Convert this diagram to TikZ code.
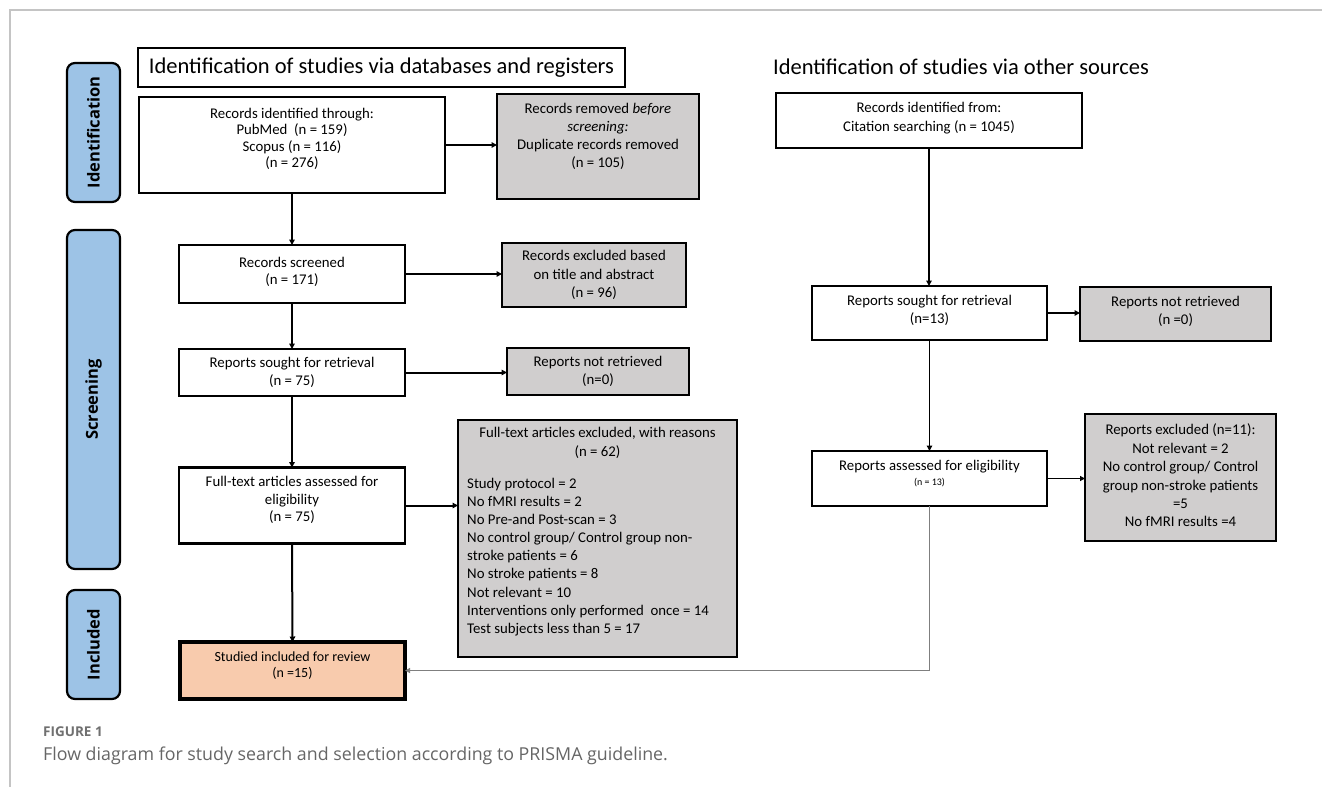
\documentclass[tikz,border=0pt]{standalone}
\usepackage{fontspec}
\setmainfont{Carlito}
\newfontfamily\labfont{Open Sans}
\usetikzlibrary{arrows.meta,calc}
\definecolor{boxgray}{HTML}{D0CECE}
\definecolor{labblue}{HTML}{9DC3E6}
\definecolor{peach}{HTML}{F8CBAD}
\definecolor{capgray}{HTML}{666666}
\definecolor{figgray}{HTML}{707070}
\definecolor{framegray}{HTML}{C4C4C4}
\definecolor{linkgray}{HTML}{7F7F7F}
\begin{document}
\begin{tikzpicture}[x=1pt,y=-1pt,
  box/.style={draw=black, line width=2.6pt, inner sep=0pt, outer sep=0pt},
  wbox/.style={box, fill=white},
  gbox/.style={box, fill=boxgray},
  sidelab/.style={draw=black, line width=2.2pt, fill=labblue, rounded corners=8pt, inner sep=0pt},
  labtxt/.style={rotate=90, font=\labfont\bfseries\fontsize{16.5}{18}\selectfont},
  txt/.style={align=center, font=\fontsize{14.8}{16.5}\selectfont, inner sep=0pt},
  arr/.style={-{Triangle[length=5.5pt,width=5.5pt]}, line width=2pt},
  rarr/.style={-{Triangle[length=5.5pt,width=5.5pt]}, line width=1.6pt},
  tarr/.style={-{Triangle[length=5pt,width=5pt]}, line width=1.2pt},
  garr/.style={-{Triangle[length=5pt,width=5pt]}, line width=1.2pt, draw=linkgray},
]
\useasboundingbox (0,0) rectangle (1322,787);
\fill[white] (0,0) rectangle (1322,787);
% frame
\draw[framegray, line width=1.2pt] (1322,10) -- (10,10) -- (10,787);

% side labels
\node[sidelab, minimum width=53pt, minimum height=139pt] (idlab) at (93.5,132.5) {};
\node[labtxt] (idlabT) at (idlab.center) {Identification};
\node[sidelab, minimum width=53pt, minimum height=339pt] (sclab) at (93.5,399.5) {};
\node[labtxt] (sclabT) at (sclab.center) {Screening};
\node[sidelab, minimum width=53pt, minimum height=109pt] (inlab) at (93.5,644.5) {};
\node[labtxt] (inlabT) at (inlab.center) {Included};

% titles
\node[wbox, minimum width=487pt, minimum height=39pt, font=\fontsize{22.5}{26}\selectfont] (title1) at (381.5,67.5) {Identification of studies via databases and registers};
\node[font=\fontsize{22.5}{26}\selectfont, inner sep=0pt] (title2) at (961,67) {Identification of studies via other sources};

% left column
\node[wbox, minimum width=306pt, minimum height=96pt] (recid) at (292,145) {};
\node[txt, anchor=north] (recidT) at ($(recid.north)+(0,11)$) {Records identified through:\\PubMed~ (n = 159)\\Scopus (n = 116)\\(n = 276)};

\node[gbox, minimum width=202pt, minimum height=105pt] (recrem) at (598,146.5) {};
\node[txt, anchor=north, font=\fontsize{14.8}{18}\selectfont] (recremT) at ($(recrem.north)+(0,9)$) {Records removed \textit{before}\\\textit{screening:}\\Duplicate records removed\\(n = 105)};

\node[wbox, minimum width=226pt, minimum height=58pt] (recscr) at (292,274) {};
\node[txt, font=\fontsize{14.8}{17.5}\selectfont] (recscrT) at ($(recscr.center)+(0,-2)$) {Records screened\\(n = 171)};

\node[gbox, minimum width=184pt, minimum height=64pt] (recexc) at (594,275) {};
\node[txt, font=\fontsize{14.8}{18.5}\selectfont] (recexcT) at (recexc.center) {Records excluded based\\on title and abstract\\(n = 96)};

\node[wbox, minimum width=226pt, minimum height=47pt] (repsought) at (292,372.5) {};
\node[txt, font=\fontsize{14.8}{17.5}\selectfont] (repsoughtT) at (repsought.center) {Reports sought for retrieval\\(n = 75)};

\node[gbox, minimum width=182pt, minimum height=47pt] (repnot) at (598,371.5) {};
\node[txt, font=\fontsize{14.8}{17.5}\selectfont] (repnotT) at (repnot.center) {Reports not retrieved\\(n=0)};

\node[wbox, minimum width=226pt, minimum height=76pt] (fta) at (292,505.5) {};
\node[txt, anchor=north, font=\fontsize{14.8}{17.5}\selectfont] (ftaT) at ($(fta.north)+(0,9)$) {Full-text articles assessed for\\eligibility\\(n = 75)};

\node[gbox, minimum width=279pt, minimum height=237pt] (ftex) at (597.5,538.5) {};
\node[txt, anchor=north, font=\fontsize{14.8}{19}\selectfont] (ftexH) at ($(ftex.north)+(0,7)$) {Full-text articles excluded, with reasons\\(n = 62)};
\node[txt, align=left, anchor=north west, font=\fontsize{14.8}{18.1}\selectfont] (ftexL) at (467,478) {Study protocol = 2\\No fMRI results = 2\\No Pre-and Post-scan = 3\\No control group/ Control group non-\\stroke patients = 6\\No stroke patients = 8\\Not relevant = 10\\Interventions only performed~ once = 14\\Test subjects less than 5 = 17};

\node[box, line width=3.2pt, fill=peach, minimum width=225pt, minimum height=57pt] (studied) at (292.5,670.5) {};
\node[txt, font=\fontsize{14}{16.5}\selectfont] (studiedT) at ($(studied.center)+(0,-5)$) {Studied included for review\\(n =15)};

% right column
\node[wbox, minimum width=306pt, minimum height=55pt] (rrecid) at (929,120.5) {};
\node[txt, font=\fontsize{14.8}{19}\selectfont] (rrecidT) at ($(rrecid.center)+(0,-2)$) {Records identified from:\\Citation searching (n = 1045)};

\node[wbox, minimum width=235pt, minimum height=54pt] (rrs) at (929.5,313) {};
\node[txt, font=\fontsize{14.8}{18}\selectfont] (rrsT) at ($(rrs.center)+(0,-3)$) {Reports sought for retrieval\\(n=13)};

\node[gbox, minimum width=191pt, minimum height=54pt] (rrn) at (1175.5,314) {};
\node[txt, font=\fontsize{14.8}{18}\selectfont] (rrnT) at ($(rrn.center)+(0,-3)$) {Reports not retrieved\\(n =0)};

\node[wbox, minimum width=235pt, minimum height=55pt] (rra) at (929.5,478.5) {};
\node[txt, font=\fontsize{14.8}{15}\selectfont] (rraT) at ($(rra.center)+(0,-5)$) {Reports assessed for eligibility\\{\fontsize{10}{11}\selectfont (n = 13)}};

\node[gbox, minimum width=191pt, minimum height=127pt] (rre) at (1180.5,477.5) {};
\node[txt, font=\fontsize{14.8}{18.4}\selectfont] (rreT) at ($(rre.center)+(0,-2)$) {Reports excluded (n=11):\\Not relevant = 2\\No control group/ Control\\group non-stroke patients\\=5\\No fMRI results =4};

% connectors left
\draw[arr] (recid.south) -- (recscr.north);
\draw[arr] (recscr.south) -- (repsought.north);
\draw[arr] (repsought.south) -- (fta.north);
\draw[arr] (fta.south) -- (studied.north);
\draw[arr] (recid.east) -- (recid.east -| recrem.west);
\draw[arr] (recscr.east) -- (recscr.east -| recexc.west);
\draw[arr] (repsought.east) -- (repsought.east -| repnot.west);
\draw[arr] (fta.east) -- (fta.east -| ftex.west);

% connectors right
\draw[rarr] (rrecid.south) -- (rrecid.south |- rrs.north);
\draw[rarr] (rrs.south) -- (rrs.south |- rra.north);
\draw[arr] (rrs.east) -- (rrs.east -| rrn.west);
\draw[tarr] (rra.east) -- (rra.east -| rre.west);
\draw[garr] (rra.south) |- (studied.east);

% caption
\node[anchor=west, inner sep=0pt, font=\labfont\bfseries\fontsize{13.5}{15}\selectfont, text=figgray] (figlab) at (43,732) {FIGURE 1};
\node[anchor=west, inner sep=0pt, font=\labfont\fontsize{17.8}{20}\selectfont, text=capgray] (cap) at (43,756) {Flow diagram for study search and selection according to PRISMA guideline.};
\end{tikzpicture}
\end{document}
